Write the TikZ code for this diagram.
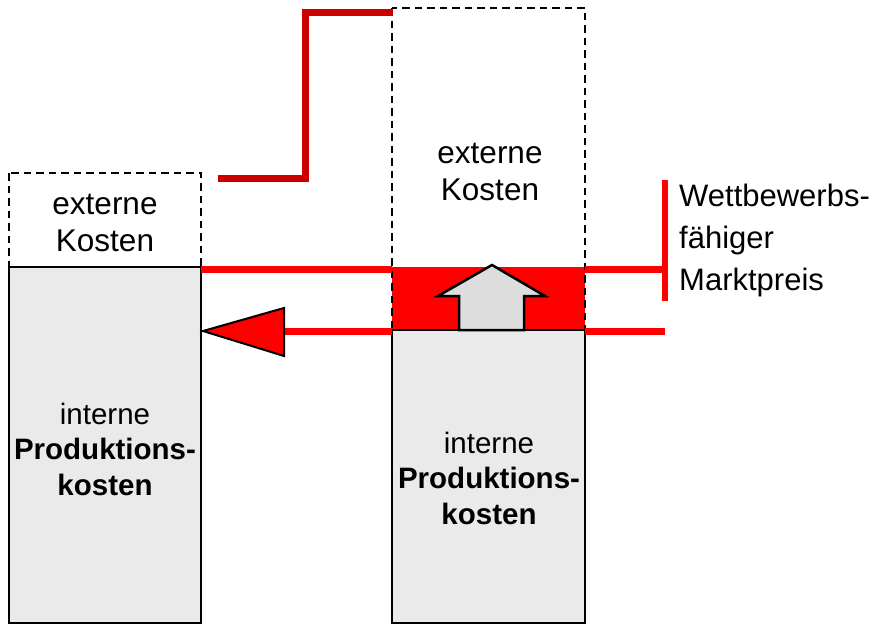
\documentclass[tikz,border=0pt]{standalone}
\usepackage{fontspec}
\setmainfont{Liberation Sans}
\definecolor{mred}{HTML}{FF0000}
\definecolor{dred}{HTML}{CC0000}
\definecolor{boxgrey}{HTML}{EAEAEA}
\definecolor{arrowgrey}{HTML}{DDDDDD}
\begin{document}
\begin{tikzpicture}[x=1pt,y=-1pt,
  dashbox/.style={draw=black, line width=2.5pt, dash pattern=on 7.5pt off 5pt},
  greybox/.style={draw=black, line width=2.2pt, fill=boxgrey},
  redline/.style={draw=mred, line width=7pt},
  darkline/.style={draw=dred, line width=7pt, line join=miter},
  lbl/.style={font=\fontsize{31.5}{37.5}\selectfont, align=center, inner sep=0pt},
  lblb/.style={font=\fontsize{29.5}{35.5}\selectfont, align=center, inner sep=0pt},
  sidelbl/.style={font=\fontsize{31}{42}\selectfont, align=left, inner sep=0pt, anchor=west},
  blackedge/.style={draw=black, line width=2.5pt, line join=miter},
]
\useasboundingbox (0,0) rectangle (878,625);
% coordinates
\coordinate (Ltop) at (9,173);
\coordinate (Lmid) at (201,267);
\coordinate (Lmidl) at (9,267);
\coordinate (Lbot) at (201,623);
\coordinate (Rtop) at (392,8);
\coordinate (Rredtl) at (392,267);
\coordinate (Rmid) at (585,330);
\coordinate (Rmidl) at (392,330);
\coordinate (Rbot) at (585,623);
% right box red band
\fill[mred] (Rredtl) rectangle (Rmid);
% grey boxes
\path[greybox] (Lmidl) rectangle (Lbot);
\path[greybox] (Rmidl) rectangle (Rbot);
% dashed boxes
\path[dashbox] (Ltop) rectangle (Lmid);
\path[dashbox] (Rtop) rectangle (Rmid);
% red lines
\coordinate (U1) at (201,269);
\coordinate (U2) at (392,269);
\coordinate (U3) at (585,269);
\coordinate (U4) at (665,269);
\coordinate (V1) at (665,180);
\coordinate (V2) at (665,301);
\coordinate (D1) at (284,331);
\coordinate (D2) at (392,331);
\coordinate (D3) at (585,331);
\coordinate (D4) at (665,331);
\draw[redline] (U1) -- (U2);
\draw[redline] (U3) -- (U4);
\draw[draw=mred, line width=6pt] (V1) -- (V2);
\draw[redline] (D1) -- (D2);
\draw[redline] (D3) -- (D4);
% dark red step line
\coordinate (S1) at (218,178);
\coordinate (S2) at (305,178);
\coordinate (S3) at (305,12);
\coordinate (S4) at (393,12);
\draw[darkline] (S1) -- (S2) -- (S3) -- (S4);
% triangle arrow
\coordinate (T1) at (203,331);
\coordinate (T2) at (284,308);
\coordinate (T3) at (284,356);
\path[blackedge, line width=2pt, fill=mred] (T1) -- (T2) -- (T3) -- cycle;
% up arrow
\path[blackedge, fill=arrowgrey] (492,265) -- (545,296) -- (524,296) -- (524,330) -- (459,330) -- (459,296) -- (438,296) -- cycle;
% labels
\node[lbl] (lext) at (105,223) {externe\\Kosten};
\node[lbl] (rext) at (490,172) {externe\\Kosten};
\node[lblb] (lint) at (105,449) {interne\\\textbf{Produktions-}\\\textbf{kosten}};
\node[lblb] (rint) at (489,478) {interne\\\textbf{Produktions-}\\\textbf{kosten}};
\node[sidelbl] (mp) at (679,240) {Wettbewerbs-\\fähiger\\Marktpreis};
\end{tikzpicture}
\end{document}
